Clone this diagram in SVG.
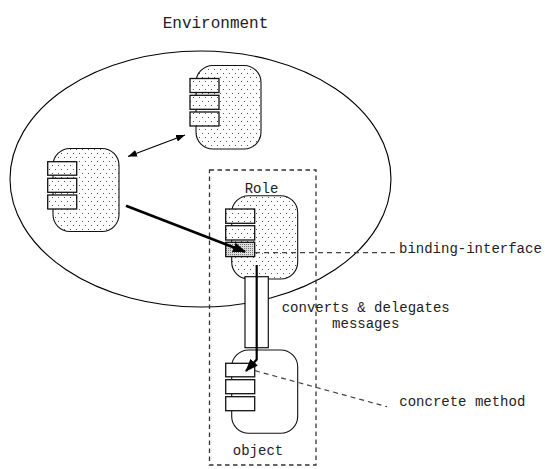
<svg xmlns="http://www.w3.org/2000/svg" width="545" height="469" viewBox="0 0 545 469">
<style>
.t{font-family:"Liberation Mono","Courier New",monospace;fill:#222}
.node{stroke:#111;stroke-width:1.1}
.box{stroke:#111;stroke-width:1.3}
.dot{fill:url(#dots)}
.lead{fill:none;stroke:#444;stroke-width:1.2;stroke-dasharray:5 4}
</style>
<defs>
<pattern id="dots" width="6" height="8" patternUnits="userSpaceOnUse">
<rect width="6" height="8" fill="#fff"/>
<rect x="1" y="1" width="1" height="1" fill="#555"/>
<rect x="4" y="5" width="1" height="1" fill="#555"/>
</pattern>
<pattern id="dense" width="2" height="2" patternUnits="userSpaceOnUse">
<rect width="2" height="2" fill="#ddd"/>
<rect x="0" y="0" width="1" height="1" fill="#777"/>
</pattern>
<marker id="ah" markerUnits="userSpaceOnUse" viewBox="0 0 9 7" refX="9" refY="3.5" markerWidth="9" markerHeight="7" orient="auto-start-reverse">
<path d="M0,0 L9,3.5 L0,7 z" fill="#000"/>
</marker>
<marker id="ahb" markerUnits="userSpaceOnUse" viewBox="0 0 13 10" refX="12" refY="5" markerWidth="13" markerHeight="10" orient="auto">
<path d="M0,0 L13,5 L0,10 z" fill="#000"/>
</marker>
</defs>
<rect width="545" height="469" fill="#fff"/>
<text class="t" x="215.5" y="28" font-size="16" text-anchor="middle">Environment</text>
<ellipse id="environment" cx="200.5" cy="179" rx="190.5" ry="128" fill="none" stroke="#000" stroke-width="1.1"/>
<rect id="role-boundary" x="209.5" y="170" width="106.5" height="295" fill="none" stroke="#333" stroke-width="1.3" stroke-dasharray="4.5 3.5"/>
<g id="node-top">
<rect class="node dot" x="196" y="65.5" width="65" height="83.5" rx="17"/>
<rect class="box dot" x="190" y="78.5" width="29" height="14"/>
<rect class="box dot" x="190" y="95.3" width="29" height="14"/>
<rect class="box dot" x="190" y="112" width="29" height="14"/>
</g>
<g id="node-left">
<rect class="node dot" x="53" y="148.5" width="66" height="83" rx="17"/>
<rect class="box dot" x="47.7" y="161.7" width="29" height="13.5"/>
<rect class="box dot" x="47.7" y="178.3" width="29" height="14"/>
<rect class="box dot" x="47.7" y="195" width="29" height="14"/>
</g>
<g id="node-role">
<rect class="node dot" x="231.7" y="195.7" width="66" height="83.3" rx="17"/>
<rect class="box dot" x="225.7" y="209" width="29" height="14.3"/>
<rect class="box dot" x="225.7" y="225.7" width="29" height="14.3"/>
<rect class="box" fill="url(#dense)" x="225.7" y="242.3" width="29" height="14.3"/>
<text class="t" x="261.5" y="193" font-size="14" text-anchor="middle">Role</text>
</g>
<g id="converter">
<rect x="245" y="276.7" width="23.3" height="71" fill="#fff" stroke="#111" stroke-width="1.2"/>
</g>
<g id="node-object">
<rect class="node" fill="#fff" x="231.7" y="350" width="66" height="83.3" rx="17"/>
<rect class="box" fill="#fff" x="225.7" y="363.3" width="29" height="13.5"/>
<rect class="box" fill="#fff" x="225.7" y="379.7" width="29" height="14"/>
<rect class="box" fill="#fff" x="225.7" y="396.7" width="29" height="14"/>
<text class="t" x="258" y="455" font-size="14" text-anchor="middle">object</text>
</g>
<g id="connectors">
<line x1="128" y1="156.5" x2="185" y2="135" stroke="#000" stroke-width="1.1" marker-start="url(#ah)" marker-end="url(#ah)"/>
<line x1="126" y1="205.7" x2="245" y2="251.7" stroke="#000" stroke-width="2.6" marker-end="url(#ahb)"/>
<path d="M256.7,265 V359.5 L246,371" fill="none" stroke="#000" stroke-width="2.2" marker-end="url(#ahb)"/>
<path class="lead" d="M255,252.7 H397"/>
<path class="lead" d="M255,370.7 L387,406.7"/>
</g>
<text class="t" x="399" y="253" font-size="14">binding-interface</text>
<text class="t" x="365.7" y="311.7" font-size="14" text-anchor="middle">converts &amp; delegates</text>
<text class="t" x="365.7" y="328.3" font-size="14" text-anchor="middle">messages</text>
<text class="t" x="399.3" y="406" font-size="14">concrete method</text>
</svg>
